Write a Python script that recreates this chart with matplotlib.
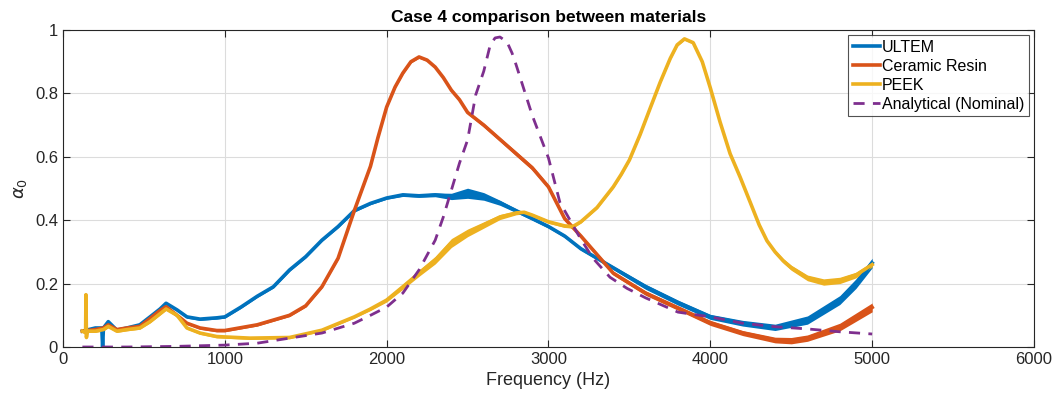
# Case 4: absorption coefficient of the three printed materials vs the analytical model
import matplotlib.pyplot as plt

plt.rcParams['font.family'] = ['Liberation Sans', 'DejaVu Sans']

# ULTEM
f_ultem = [120, 160, 200, 240, 245, 250, 280, 333, 395, 475, 538, 600, 637, 705, 766, 847, 950,
           1000, 1100, 1200, 1300, 1400, 1500, 1600, 1700, 1800, 1900, 2000, 2100, 2200, 2300,
           2400, 2500, 2600, 2700, 2800, 2900, 3000, 3100, 3200, 3300, 3400, 3600, 3800, 4000,
           4200, 4400, 4600, 4800, 4900, 5000]
a_ultem = [0.05, 0.055, 0.06, 0.06, 0.0, 0.06, 0.08, 0.053, 0.06, 0.07, 0.095, 0.12, 0.138, 0.117, 0.095,
           0.088, 0.092, 0.095, 0.126, 0.16, 0.19, 0.243, 0.285, 0.337, 0.38, 0.43, 0.453, 0.47, 0.48,
           0.477, 0.48, 0.475, 0.485, 0.475, 0.455, 0.43, 0.405, 0.38, 0.35, 0.31, 0.28, 0.25, 0.19,
           0.14, 0.095, 0.075, 0.062, 0.085, 0.148, 0.2, 0.265]
s_ultem = [0.004, 0.004, 0.004, 0.004, 0.004, 0.004, 0.004, 0.004, 0.004, 0.004, 0.004, 0.004, 0.004, 0.004, 0.004,
           0.004, 0.004, 0.004, 0.004, 0.004, 0.004, 0.004, 0.004, 0.004, 0.004, 0.004, 0.004, 0.004, 0.005,
           0.005, 0.006, 0.01, 0.016, 0.012, 0.008, 0.006, 0.005, 0.005, 0.005, 0.005, 0.005, 0.006, 0.008,
           0.008, 0.008, 0.009, 0.01, 0.013, 0.014, 0.015, 0.015]

# Ceramic Resin
f_resin = [120, 200, 250, 280, 333, 395, 475, 538, 600, 637, 705, 766, 847, 950, 1000, 1200, 1400,
           1500, 1600, 1700, 1800, 1850, 1900, 1946, 2000, 2052, 2100, 2150, 2200, 2250, 2300, 2350,
           2400, 2450, 2500, 2600, 2700, 2800, 2900, 3000, 3100, 3200, 3400, 3600, 3800, 4000, 4200,
           4400, 4500, 4600, 4800, 5000]
a_resin = [0.05, 0.055, 0.06, 0.07, 0.055, 0.06, 0.065, 0.09, 0.115, 0.127, 0.1, 0.075, 0.06, 0.052,
           0.052, 0.07, 0.1, 0.13, 0.19, 0.28, 0.43, 0.5, 0.57, 0.66, 0.757, 0.82, 0.864, 0.9, 0.915,
           0.905, 0.883, 0.85, 0.81, 0.78, 0.74, 0.7, 0.655, 0.61, 0.565, 0.505, 0.405, 0.35, 0.233,
           0.17, 0.123, 0.076, 0.044, 0.022, 0.02, 0.028, 0.063, 0.125]
s_resin = [0.004, 0.004, 0.004, 0.004, 0.004, 0.004, 0.004, 0.004, 0.004, 0.004, 0.004, 0.004, 0.004, 0.004,
           0.004, 0.004, 0.004, 0.004, 0.004, 0.004, 0.004, 0.004, 0.004, 0.004, 0.004, 0.004, 0.004, 0.004,
           0.004, 0.004, 0.004, 0.004, 0.004, 0.005, 0.005, 0.006, 0.006, 0.007, 0.007, 0.007, 0.006,
           0.006, 0.006, 0.007, 0.007, 0.008, 0.008, 0.009, 0.01, 0.01, 0.012, 0.014]

# PEEK
f_peek = [120, 140, 142, 145, 150, 200, 250, 280, 333, 395, 475, 538, 600, 637, 705, 766, 847, 950,
          1155, 1400, 1600, 1800, 1900, 2000, 2100, 2200, 2300, 2400, 2500, 2600, 2700, 2800, 2850,
          2900, 3000, 3100, 3150, 3200, 3300, 3400, 3450, 3500, 3566, 3628, 3690, 3752, 3795, 3840,
          3894, 3950, 4000, 4060, 4122, 4184, 4246, 4302, 4350, 4400, 4450, 4500, 4600, 4700, 4800,
          4900, 5000]
a_peek = [0.05, 0.045, 0.165, 0.03, 0.05, 0.05, 0.055, 0.065, 0.05, 0.055, 0.06, 0.08, 0.105, 0.12,
          0.1, 0.06, 0.044, 0.033, 0.028, 0.03, 0.053, 0.095, 0.12, 0.148, 0.19, 0.233, 0.274, 0.328,
          0.36, 0.385, 0.41, 0.423, 0.425, 0.416, 0.395, 0.382, 0.38, 0.395, 0.44, 0.505, 0.545, 0.59,
          0.67, 0.753, 0.835, 0.91, 0.953, 0.972, 0.96, 0.9, 0.817, 0.71, 0.61, 0.536, 0.457, 0.385,
          0.335, 0.3, 0.272, 0.25, 0.218, 0.205, 0.21, 0.227, 0.26]
s_peek = [0.004, 0.004, 0.004, 0.004, 0.004, 0.004, 0.004, 0.004, 0.004, 0.004, 0.004, 0.004, 0.004, 0.004,
          0.004, 0.004, 0.004, 0.004, 0.004, 0.004, 0.004, 0.004, 0.005, 0.006, 0.008, 0.01, 0.012, 0.014,
          0.012, 0.01, 0.008, 0.006, 0.005, 0.005, 0.005, 0.005, 0.005, 0.004, 0.004, 0.004, 0.004, 0.004,
          0.004, 0.004, 0.004, 0.004, 0.004, 0.004, 0.004, 0.004, 0.004, 0.004, 0.004, 0.004, 0.004,
          0.005, 0.005, 0.006, 0.007, 0.008, 0.009, 0.01, 0.01, 0.009, 0.008]

# Analytical (Nominal)
f_model = [120, 400, 700, 1000, 1200, 1400, 1600, 1800, 1900, 2000, 2100, 2200, 2300, 2350, 2400,
           2450, 2500, 2550, 2600, 2640, 2670, 2700, 2744, 2775, 2800, 2900, 3000, 3070, 3200, 3275,
           3380, 3485, 3600, 3800, 4000, 4200, 4400, 4600, 4800, 5000]
a_model = [0.0, 0.0, 0.002, 0.006, 0.012, 0.028, 0.044, 0.075, 0.1, 0.126, 0.17, 0.243, 0.337, 0.41,
           0.495, 0.58, 0.653, 0.795, 0.87, 0.953, 0.975, 0.978, 0.962, 0.927, 0.89, 0.73, 0.596, 0.457,
           0.34, 0.28, 0.22, 0.185, 0.155, 0.11, 0.095, 0.075, 0.064, 0.057, 0.048, 0.041]

series = [
    ('ULTEM', f_ultem, a_ultem, s_ultem, '#0072BD'),
    ('Ceramic Resin', f_resin, a_resin, s_resin, '#D95319'),
    ('PEEK', f_peek, a_peek, s_peek, '#EDB120'),
]

fig = plt.figure(figsize=(10.6, 4.05), dpi=100)
ax = fig.add_axes([0.0594, 0.1432, 0.9161, 0.7827])

for name, f, a, s, c in series:
    lo = [v - d for v, d in zip(a, s)]
    hi = [v + d for v, d in zip(a, s)]
    ax.fill_between(f, lo, hi, color=c, lw=0)
    ax.plot(f, a, color=c, lw=2.6, label=name, solid_joinstyle='round')

ax.plot(f_model, a_model, '--', color='#7E2F8E', lw=2, dashes=(4, 3), label='Analytical (Nominal)')

ax.set_xlim(0, 6000)
ax.set_ylim(0, 1)
ax.set_xticks(range(0, 6001, 1000))
ax.set_yticks([0, 0.2, 0.4, 0.6, 0.8, 1])
ax.set_yticklabels(['0', '0.2', '0.4', '0.6', '0.8', '1'])
ax.grid(True, color='#dcdcdc', lw=0.8)
ax.set_axisbelow(True)
ax.tick_params(direction='in', top=True, right=True, labelsize=12, colors='#262626', length=5)
for sp in ax.spines.values():
    sp.set_color('#262626')
    sp.set_linewidth(0.8)

ax.set_xlabel('Frequency (Hz)', fontsize=13, color='#262626')
ax.set_ylabel(r'$\alpha_0$', fontsize=13, color='#262626')
ax.set_title('Case 4 comparison between materials', fontsize=12.5, fontweight='bold', pad=6)

leg = ax.legend(loc='upper right', fontsize=11.5, frameon=True, fancybox=False, handlelength=1.7,
                handletextpad=0.15, borderpad=0.3, labelspacing=0.25, borderaxespad=0.3)
leg.get_frame().set_edgecolor('#262626')
leg.get_frame().set_linewidth(0.8)

plt.savefig('out.png', dpi=100)
